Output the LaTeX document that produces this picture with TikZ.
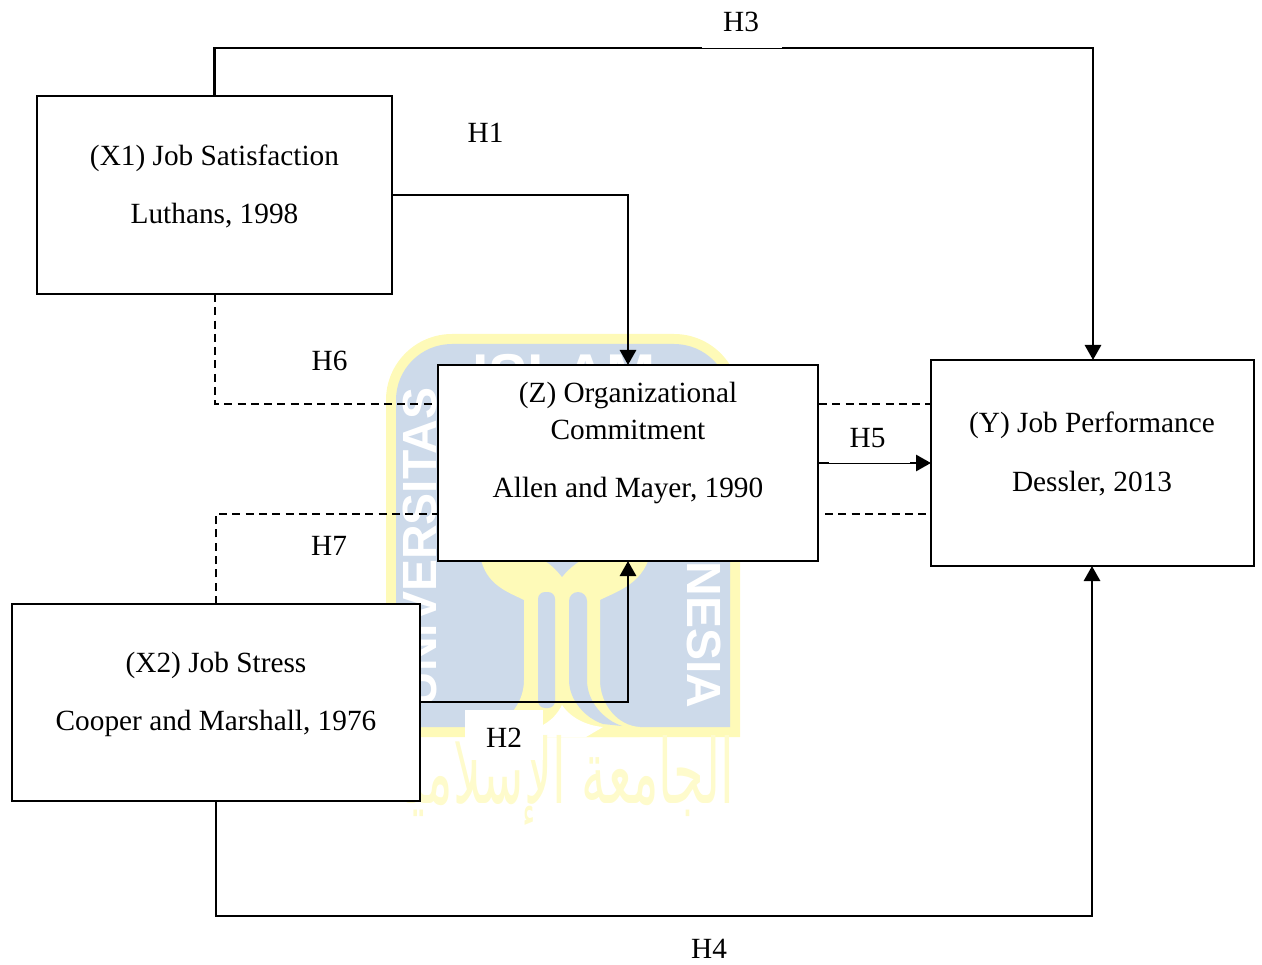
\documentclass[tikz,border=0pt]{standalone}
\usepackage{fontspec}
\usepackage{graphicx}
\setmainfont{Liberation Serif}
\newfontfamily\logofont{Liberation Sans}
\newfontfamily\arabicfont[Script=Arabic]{DejaVu Sans}
\TeXXeTstate=1
\definecolor{logoblue}{HTML}{CDDAEA}
\definecolor{logoyellow}{HTML}{FEFAB8}
\definecolor{logopale}{HTML}{FEFBCC}
\usetikzlibrary{arrows.meta}
\tikzset{
  boxnode/.style={draw=black,line width=2.9pt,fill=white,anchor=north west,inner sep=0pt,outer sep=0pt,align=center},
  lbl/.style={inner sep=0pt,anchor=base,font=\fontsize{29.3}{29.3}\selectfont},
  solidlink/.style={line width=2.9pt,draw=black},
  thinlink/.style={line width=2.9pt,draw=black},
  dashlink/.style={line width=2pt,draw=black,dash pattern=on 8pt off 5.3pt},
  tip/.style={-{Triangle[length=15pt,width=16pt]}},
  logotext/.style={text=white,font=\logofont\bfseries\fontsize{48}{48}\selectfont,inner sep=0pt}
}
\begin{document}
\begin{tikzpicture}[x=1pt,y=-1pt]
\useasboundingbox (0,0) rectangle (1262,965);
% watermark
\fill[logoyellow] (386,737) -- (386,400) arc[start angle=180,end angle=90,radius=66pt] -- (674,334) arc[start angle=90,end angle=0,radius=66pt] -- (740,737) -- cycle;
\fill[logoblue] (396,727) -- (396,400) arc[start angle=180,end angle=90,radius=56pt] -- (674,344) arc[start angle=90,end angle=0,radius=56pt] -- (730,727) -- cycle;
\node[logotext,rotate=90] (wm1) at (420,547) {UNIVERSITAS};
\node[logotext,anchor=north,font=\logofont\bfseries\fontsize{59}{59}\selectfont] (wm2) at (564,354) {ISLAM};
\node[logotext,rotate=-90] (wm3) at (704,635) {NESIA};
\fill[logoyellow] (480,555) -- (650,555) .. controls (642,585) and (615,592) .. (600,600) -- (600,680) .. controls (600,705) and (618,726) .. (640,727) -- (640,737) -- (480,737) -- (480,727) .. controls (505,727) and (524,705) .. (524,680) -- (524,600) .. controls (508,592) and (485,585) .. (480,555) -- cycle;
\fill[logoblue,rounded corners=7pt] (538,592) -- (555,592) -- (555,708) -- (538,708) -- cycle;
\fill[logoblue] (569,601) arc[start angle=180,end angle=0,radius=9pt] -- (587,680) .. controls (587,702) and (604,720) .. (622,726) -- (603,724) .. controls (585,718) and (569,700) .. (569,680) -- cycle;
\fill[logoblue] (545,561) .. controls (553,566) and (558,572) .. (562,577) .. controls (566,572) and (572,566) .. (580,561) -- cycle;
\fill[white] (562,705) .. controls (572,720) and (590,726) .. (603,727) -- (586,737) -- (535,737) -- (543,725) .. controls (552,720) and (558,713) .. (562,705) -- cycle;
\node[text=logopale,inner sep=0pt] (wm4) at (560,780) {\resizebox{349pt}{68pt}{\arabicfont\beginR الجامعة الإسلامية\endR}};
% boxes
\node[boxnode,minimum width=355pt,minimum height=198pt] (x1) at (37,96) {};
\node[boxnode,minimum width=408pt,minimum height=197pt] (x2) at (12,604) {};
\node[boxnode,minimum width=380pt,minimum height=196pt] (z) at (438,365) {};
\node[boxnode,minimum width=323pt,minimum height=206pt] (y) at (931,360) {};
% coordinates
\coordinate (h3c) at (1093,48);
\coordinate (h1b) at (628,195);
\coordinate (h2b) at (628,702);
\coordinate (h4c) at (1092,916);
\coordinate (h6b) at (438,404);
\coordinate (h7b) at (438,514);
\coordinate (dra) at (819,404);
\coordinate (drb) at (931,404);
\coordinate (dsa) at (825,514);
\coordinate (dsb) at (927,514);
\coordinate (h5a) at (819,463);
\coordinate (h5b) at (931,463);
% connectors
\draw[solidlink,tip] (x1.north) |- (h3c) -- (y.north -| h3c);
\draw[solidlink,tip] (x1.east |- h1b) -- (h1b) -- (z.north);
\draw[solidlink,tip] (x2.east |- h2b) -- (h2b) -- (z.south);
\draw[solidlink,tip] (x2.south) |- (h4c) -- (y.south -| h4c);
\draw[dashlink] (x1.south) |- (h6b);
\draw[dashlink] (x2.north) |- (h7b);
\draw[dashlink] (dra) -- (drb);
\draw[dashlink] (dsa) -- (dsb);
\draw[thinlink,tip] (h5a) -- (h5b);
% white label patches
\fill[white] (702,15) rectangle (782,47.6);
\fill[white] (829,420) rectangle (910,462.6);
\fill[white] (465,710) rectangle (543,760);
% box texts
\node[lbl] (t1) at (214.5,166) {(X1) Job Satisfaction};
\node[lbl] (t2) at (214.5,224) {Luthans, 1998};
\node[lbl] (t3) at (216,672) {(X2) Job Stress};
\node[lbl] (t4) at (216,730) {Cooper and Marshall, 1976};
\node[lbl] (t5) at (628,403) {(Z) Organizational};
\node[lbl] (t6) at (628,440) {Commitment};
\node[lbl] (t7) at (628,498) {Allen and Mayer, 1990};
\node[lbl] (t8) at (1092,433) {(Y) Job Performance};
\node[lbl] (t9) at (1092,492) {Dessler, 2013};
% labels
\node[lbl] (h1) at (485.5,143) {H1};
\node[lbl] (h2) at (504,747) {H2};
\node[lbl] (h3) at (741,32) {H3};
\node[lbl] (h4) at (709,958) {H4};
\node[lbl] (h5) at (867.5,448) {H5};
\node[lbl] (h6) at (329.5,371) {H6};
\node[lbl] (h7) at (329,555) {H7};
\end{tikzpicture}
\end{document}
